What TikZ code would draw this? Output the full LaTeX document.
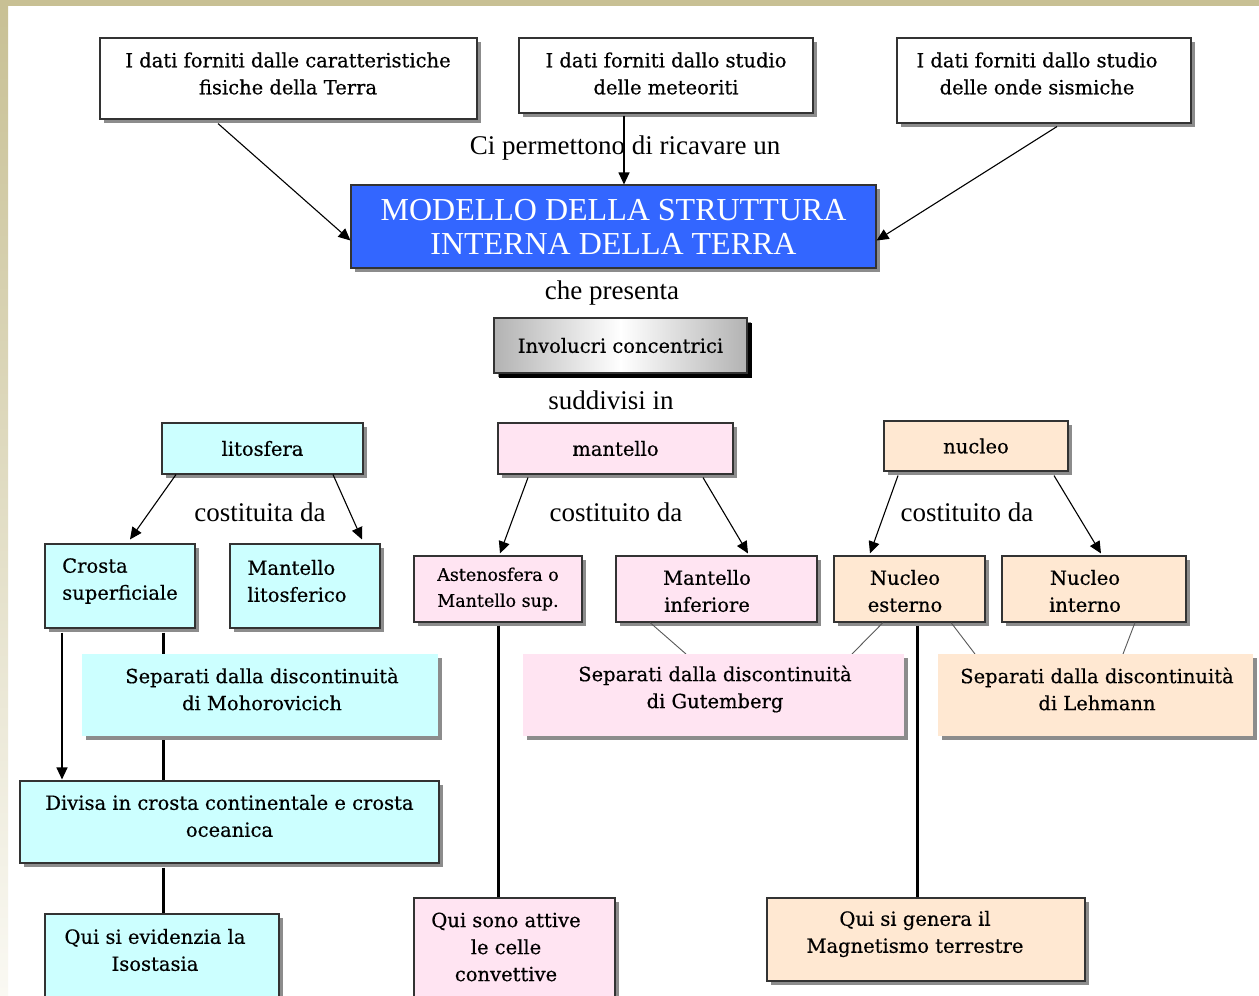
\documentclass[tikz,border=0pt]{standalone}
\usepackage{fontspec}
\setmainfont{Liberation Serif}
\newfontfamily\boxfont[FakeBold=0.5]{DejaVu Serif}
\usetikzlibrary{shadows,arrows.meta,calc}
\definecolor{bluebox}{RGB}{51,102,255}
\definecolor{cyanbox}{RGB}{204,255,255}
\definecolor{pinkbox}{RGB}{255,228,242}
\definecolor{peachbox}{RGB}{255,232,210}
\definecolor{olivebar}{RGB}{200,192,148}
\definecolor{palebar}{RGB}{250,249,243}
\begin{document}
\begin{tikzpicture}[x=1pt,y=-1pt,
  box/.style={draw=black!80, line width=1.1pt, inner sep=0pt, align=center,
    font=\boxfont\fontsize{19.5}{27}\selectfont,
    drop shadow={shadow xshift=4pt, shadow yshift=-4pt, fill=black!45, opacity=1}},
  sepbox/.style={box, draw=none},
  txt/.style={inner sep=0pt, align=center, font=\boxfont\fontsize{19.5}{27}\selectfont},
  lbl/.style={inner sep=0pt, font=\fontsize{27}{30}\selectfont},
  arr/.style={line width=1.1pt, -{Triangle[length=12pt,width=11pt]}},
  thick line/.style={line width=3pt},
  thin line/.style={line width=0.9pt, draw=black!65}]
\useasboundingbox (0,0) rectangle (1259,996);
\clip (0,0) rectangle (1259,996);
\fill[white] (0,0) rectangle (1259,996);
\shade[top color=olivebar, bottom color=palebar] (0,0) rectangle (8,996);
\fill[olivebar] (0,0) rectangle (1259,6);

% top boxes
\node[box, fill=white, minimum width=377, minimum height=81] (top1) at (288.5,78.5) {};
\node[txt] (top1t) at (288,73.5) {I dati forniti dalle caratteristiche\\fisiche della Terra};
\node[box, fill=white, minimum width=294, minimum height=75] (top2) at (666,75.5) {};
\node[txt] (top2t) at (666,73.5) {I dati forniti dallo studio\\delle meteoriti};
\node[box, fill=white, minimum width=294, minimum height=85] (top3) at (1044,80.5) {};
\node[txt] (top3t) at (1037,73.5) {I dati forniti dallo studio\\delle onde sismiche};

% model
\node[box, fill=bluebox, text=white, minimum width=525, minimum height=83,
  font=\fontsize{32}{34}\selectfont] (model) at (613.5,226.5) {MODELLO DELLA STRUTTURA\\INTERNA DELLA TERRA};

\node[lbl] (l1) at (625,148.5) {Ci permettono di ricavare un};
\node[lbl] (l2) at (612,293.5) {che presenta};
\node[lbl] (l3) at (611,400) {suddivisi in};

\node[box, left color=black!30, right color=black!30, middle color=white,
  minimum width=253, minimum height=55,
  drop shadow={shadow xshift=5pt, shadow yshift=-5pt, fill=black, opacity=1}] (invol) at (620.5,345.5) {Involucri concentrici};

% level 1
\node[box, fill=cyanbox, minimum width=201, minimum height=51] (lito) at (262.5,448.5) {litosfera};
\node[box, fill=pinkbox, minimum width=235, minimum height=51] (mant) at (615.5,448.5) {mantello};
\node[box, fill=peachbox, minimum width=184, minimum height=50] (nucl) at (976,446) {nucleo};

\node[lbl] (c1) at (260,512) {costituita da};
\node[lbl] (c2) at (616,512) {costituito da};
\node[lbl] (c3) at (967,512) {costituito da};

% level 2
\node[box, fill=cyanbox, minimum width=150, minimum height=84] (crosta) at (120,586) {};
\node[txt, align=left] (crostat) at (120,581) {Crosta\\superficiale};
\node[box, fill=cyanbox, minimum width=150, minimum height=84] (mlito) at (305,586) {};
\node[txt, align=left] (mlitot) at (297,581) {Mantello\\litosferico};
\node[box, fill=pinkbox, minimum width=168, minimum height=66,
  font=\boxfont\fontsize{17.5}{26}\selectfont] (aste) at (498,589) {Astenosfera o\\Mantello sup.};
\node[box, fill=pinkbox, minimum width=201, minimum height=66] (minf) at (716.5,589) {};
\node[txt] (minft) at (707,591) {Mantello\\inferiore};
\node[box, fill=peachbox, minimum width=151, minimum height=66] (nest) at (909.5,589) {};
\node[txt] (nestt) at (905,591) {Nucleo\\esterno};
\node[box, fill=peachbox, minimum width=184, minimum height=66] (nint) at (1094,589) {};
\node[txt] (nintt) at (1085,591) {Nucleo\\interno};

% connectors level 1 -> 2
\draw[arr] ([xshift=-86.5pt]lito.south) -- ([xshift=10pt,yshift=4pt]crosta.north);
\draw[arr] ([xshift=70.5pt]lito.south) -- ([xshift=57pt,yshift=4pt]mlito.north);
\draw[arr] ([xshift=-87.5pt,yshift=-3pt]mant.south) -- ([xshift=2pt,yshift=2pt]aste.north);
\draw[arr] ([xshift=87.5pt,yshift=-3pt]mant.south) -- ([xshift=31.5pt,yshift=2pt]minf.north);
\draw[arr] ([xshift=-78pt,yshift=-4pt]nucl.south) -- ([xshift=-39.5pt,yshift=2pt]nest.north);
\draw[arr] ([xshift=78pt,yshift=-4pt]nucl.south) -- ([xshift=7pt,yshift=2pt]nint.north);

% long connectors (behind boxes)
\node[box, fill=cyanbox, minimum width=419, minimum height=82] (divisa) at (229.5,822) {};
\draw[thick line] ([xshift=43pt,yshift=-4pt]crosta.south) -- ([xshift=-66.5pt]divisa.north);
\draw[arr] ([xshift=-58pt,yshift=-4pt]crosta.south) -- ([xshift=-167.5pt,yshift=1pt]divisa.north);
\node[txt] (divisat) at (229.5,816) {Divisa in crosta continentale e crosta\\oceanica};

% separators
\draw[thin line] ([xshift=-66.5pt]minf.south) -- (686,654);
\draw[thin line] ([xshift=-26.5pt]nest.south) -- (852,654);
\draw[thin line] ([xshift=41.5pt]nest.south) -- (975,654);
\draw[thin line] ([xshift=41pt]nint.south) -- (1123,654);

\node[sepbox, fill=cyanbox, minimum width=356, minimum height=82] (moho) at (260,695) {};
\node[txt] (mohot) at (262,689) {Separati dalla discontinuità\\di Mohorovicich};
\node[sepbox, fill=pinkbox, minimum width=381, minimum height=82] (gute) at (713.5,695) {};
\node[txt] (gutet) at (715,689) {Separati dalla discontinuità\\di Gutemberg};
\node[sepbox, fill=peachbox, minimum width=315, minimum height=82] (lehm) at (1095.5,695) {};
\node[txt] (lehmt) at (1097,689) {Separati dalla discontinuità\\di Lehmann};

% bottom boxes
\node[box, fill=cyanbox, minimum width=234, minimum height=110] (isost) at (162,969) {};
\node[txt] (isostt) at (155,950) {Qui si evidenzia la\\Isostasia};
\draw[thick line] ([xshift=-66.5pt,yshift=-4pt]divisa.south) -- ([xshift=1pt]isost.north);

\node[box, fill=pinkbox, minimum width=201, minimum height=120] (celle) at (514.5,958) {};
\node[txt] (cellet) at (506,947) {Qui sono attive\\le celle\\convettive};
\draw[thick line] ([yshift=-3pt]aste.south) -- ([xshift=-16.5pt]celle.north);

\node[box, fill=peachbox, minimum width=318, minimum height=83] (magn) at (926,939.5) {};
\node[txt] (magnt) at (915,934) {Qui si genera il\\Magnetismo terrestre};
\draw[thick line] ([xshift=7.5pt,yshift=-3pt]nest.south) -- ([xshift=-9pt]magn.north);

% top connectors
\draw[arr] ([xshift=-70.5pt,yshift=-4pt]top1.south) -- ([yshift=-14pt]model.west);
\draw[arr] ([xshift=-42pt,yshift=-2pt]top2.south) -- ([xshift=10.5pt]model.north);
\draw[arr] ([xshift=13pt,yshift=-3pt]top3.south) -- ([yshift=-14pt]model.east);
\end{tikzpicture}
\end{document}
